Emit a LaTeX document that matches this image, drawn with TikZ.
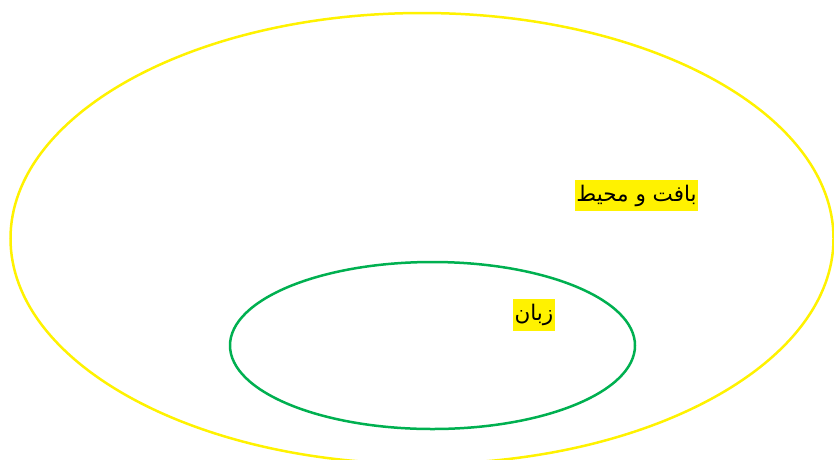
\documentclass[tikz,border=0pt]{standalone}
\usepackage{fontspec}
\newfontfamily\arabicfont[Script=Arabic]{DejaVu Sans}
\TeXXeTstate=1
\usetikzlibrary{shapes.geometric}
\definecolor{ringgreen}{RGB}{0,176,80}

\begin{document}
\begin{tikzpicture}[
  x=1pt, y=-1pt,
  every node/.style={font=\arabicfont\fontsize{21.5}{24}\selectfont},
  ring/.style={ellipse,draw,line width=2.5pt,inner sep=0pt},
  label/.style={fill=yellow,inner xsep=1.5pt,inner ysep=5pt}
]
\useasboundingbox (0,0) rectangle (834,459);
\clip (0,0) rectangle (834,459);

% CONTEXT
\node[ring,draw=yellow,minimum width=823pt,minimum height=451pt] (context) at (422,238.5) {};
\node[label] (contextname) at (636.5,195.5) {\beginR بافت و محیط\endR};

% LANGUAGE
\node[ring,draw=ringgreen,minimum width=405pt,minimum height=167pt] (language) at (432.5,345.5) {};
\node[label] (languagename) at (534,315) {\beginR زبان\endR};

\end{tikzpicture}
\end{document}
